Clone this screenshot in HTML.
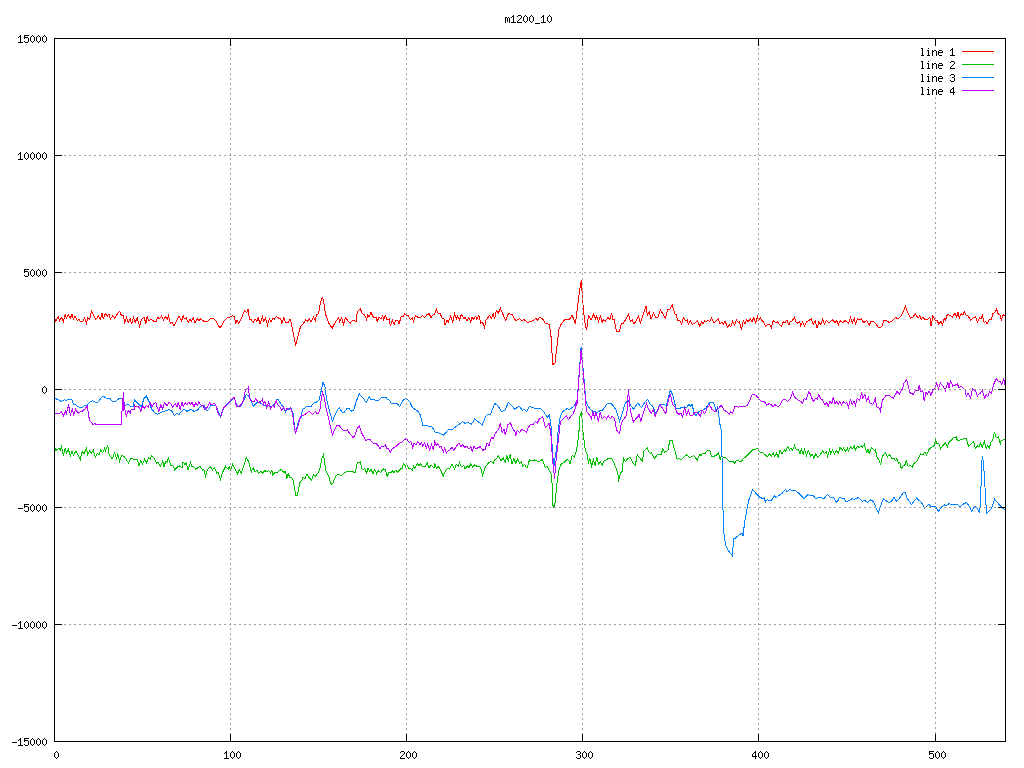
<!DOCTYPE html>
<html><head><meta charset="utf-8"><title>m1200_10</title>
<style>html,body{margin:0;padding:0;background:#fff;overflow:hidden}svg{display:block}</style>
</head><body>
<svg width="1024" height="768" viewBox="0 0 1024 768" shape-rendering="crispEdges">
<rect width="1024" height="768" fill="#fff"/>
<g shape-rendering="crispEdges">
<polyline fill="none" stroke="#ff0000" stroke-width="1" stroke-linejoin="miter" points="54.0,316.62 55.88,321.25 58.38,316.88 59.62,320.62 61.5,317.5 63.38,321.25 65.25,314.38 66.5,318.12 68.38,315.0 70.25,318.12 72.12,314.38 73.38,319.38 75.25,316.25 77.12,320.62 79.0,318.75 80.25,321.88 82.75,321.25 84.62,318.12 86.5,323.12 87.75,317.5 89.62,319.38 91.5,311.25 95.88,319.38 98.38,315.62 100.25,319.38 102.12,313.12 103.38,319.38 105.25,313.12 107.12,316.25 109.0,313.75 110.25,319.38 112.75,315.62 114.62,318.12 117.12,314.38 119.62,311.25 121.5,315.62 123.38,315.62 124.62,322.5 126.5,317.5 128.38,322.5 130.25,318.75 131.5,324.38 133.38,317.5 135.25,322.5 137.12,317.5 139.62,326.25 141.5,319.38 144.0,316.88 145.88,323.75 147.12,316.25 149.0,321.25 150.88,319.38 154.0,321.25 155.88,321.88 157.75,317.5 159.62,318.75 161.5,316.25 163.38,320.0 165.25,316.25 167.12,319.38 168.38,315.62 170.25,323.12 172.12,321.88 174.0,325.62 179.0,316.25 181.5,321.25 183.12,315.62 184.38,318.75 186.25,318.12 188.12,322.5 190.0,318.75 191.25,321.25 193.12,317.5 195.0,323.12 197.5,318.75 198.75,320.62 200.62,318.75 203.75,321.25 207.5,321.25 210.62,318.5 213.75,318.75 215.62,320.62 220.0,328.12 224.38,320.62 226.88,318.12 230.0,316.88 232.5,315.62 234.38,316.88 235.62,323.75 236.88,320.0 238.75,323.12 241.88,317.5 244.38,310.62 246.88,312.5 248.12,308.75 249.38,319.38 251.25,319.38 253.12,322.5 255.0,318.75 256.88,321.25 258.12,317.5 260.0,323.75 262.5,316.88 263.75,321.25 265.62,318.12 267.5,325.0 269.38,318.75 271.25,321.88 273.12,318.12 274.38,319.38 276.25,316.25 278.75,318.12 280.62,318.12 281.88,323.12 283.75,317.5 285.62,322.5 288.12,323.12 290.0,319.38 291.25,322.5 295.62,345.62 300.62,326.25 303.12,323.75 305.62,320.0 307.5,321.25 309.12,318.75 311.0,321.88 313.5,316.88 315.38,320.62 316.62,314.38 318.5,313.75 320.38,302.5 322.25,297.5 323.5,300.62 325.38,313.75 329.12,323.75 332.25,328.12 334.75,323.12 338.5,317.5 339.75,321.88 341.62,318.12 343.5,324.38 345.38,317.5 347.88,320.62 350.38,323.12 352.25,320.62 354.75,320.62 356.0,321.88 357.25,311.88 360.38,308.75 362.25,313.75 364.75,315.0 366.62,320.0 367.88,315.0 369.12,316.88 371.0,312.5 373.5,317.5 376.0,317.5 377.25,321.25 379.12,316.88 381.0,318.75 382.88,315.62 383.5,320.0 385.38,315.62 387.25,320.0 389.12,318.75 390.38,326.25 392.25,320.0 394.12,324.38 396.0,320.0 397.88,320.62 399.12,323.75 401.0,316.88 402.88,316.88 404.75,313.75 406.62,315.62 408.5,315.62 410.38,319.38 412.25,318.12 413.5,321.25 415.38,315.62 417.25,316.88 419.12,318.12 421.0,316.88 422.88,315.62 424.75,317.5 426.62,315.0 429.12,313.75 431.0,317.5 433.5,314.38 434.5,314.38 436.38,309.38 438.25,313.75 440.12,313.12 442.0,318.12 443.88,318.75 445.12,325.0 447.0,320.62 448.25,322.5 450.75,315.62 452.62,322.5 454.5,313.75 456.38,318.75 457.62,316.25 459.5,320.0 461.38,314.38 463.88,318.75 465.12,316.88 467.0,321.25 468.88,317.5 470.75,321.88 472.0,317.5 473.25,319.38 475.75,316.25 477.0,319.38 478.88,315.62 480.75,323.12 482.62,322.5 484.5,327.5 485.75,320.62 489.5,315.62 491.38,318.12 493.25,313.75 494.5,319.38 496.38,310.62 498.25,313.12 500.5,308.5 502.62,313.75 505.75,320.62 508.25,313.75 512.0,314.38 515.75,320.62 519.5,318.75 522.0,320.62 523.88,319.38 527.62,322.5 532.0,321.25 535.75,318.5 537.62,320.0 539.5,317.25 542.62,318.75 545.12,323.12 548.88,324.38 549.5,324.7 551.1,337.2 552.7,364.5 555,363 558.9,329.4 561.25,323.9 565.2,319.2 569,320 572.2,315.3 575.3,323.9 577.7,306 579.2,293.4 581.25,280 583.1,306 584.7,321.6 586.6,330.2 588.5,315.62 591.0,320.0 593.5,314.38 595.38,318.75 596.62,316.25 598.5,321.25 600.38,316.25 602.25,322.5 603.5,319.38 605.38,321.25 607.88,317.5 609.75,319.38 611.62,313.12 612.88,319.38 614.12,319.38 616.62,331.88 619.12,331.88 621.62,323.12 623.5,323.12 626.0,318.75 628.5,314.38 630.38,321.25 632.25,320.0 633.5,323.75 635.38,322.5 638.5,316.25 640.38,323.12 643.5,313.12 646.0,306.25 647.25,315.0 649.12,311.88 651.0,319.38 653.5,313.12 656.0,317.5 657.88,317.5 660.38,310.0 662.88,313.75 665.38,318.12 667.88,309.38 669.75,309.38 672.25,305.0 674.75,313.75 676.0,314.38 677.88,320.62 679.75,320.62 681.62,324.38 683.5,317.5 685.38,320.62 687.25,320.0 688.5,324.38 690.38,320.62 692.25,324.38 694.75,323.12 697.25,320.62 699.75,326.25 701.62,321.88 702.88,323.75 704.75,320.62 706.62,321.88 707.88,320.0 709.75,321.88 711.62,318.12 714.0,323.12 716.38,320.62 718.25,318.75 720.12,323.75 722.0,321.88 723.25,324.38 725.12,321.25 727.62,327.5 729.5,325.0 730.75,326.88 732.62,321.25 734.5,325.0 736.38,320.0 738.25,322.5 739.5,321.25 741.38,330.0 743.25,320.62 745.12,323.75 746.38,320.0 748.25,321.88 750.12,318.75 752.0,321.88 753.88,317.5 755.75,323.12 757.62,316.25 758.88,320.62 760.12,317.5 762.0,320.62 763.88,322.5 765.75,326.25 767.62,324.38 769.5,324.38 771.38,327.5 773.25,320.62 775.75,322.5 777.62,321.88 779.5,324.38 781.38,326.25 783.25,321.88 785.12,322.5 787.0,320.0 788.88,325.0 790.12,321.25 792.0,321.25 794.5,316.88 795.75,321.88 797.62,323.12 799.5,321.25 800.75,325.62 802.62,321.88 804.5,326.25 806.38,321.88 808.25,320.62 809.5,320.0 811.38,318.75 813.25,324.38 815.12,320.62 817.0,328.12 818.88,321.88 820.75,324.38 822.62,319.38 824.5,324.38 826.38,320.62 828.25,322.5 830.12,321.88 832.62,320.0 835.12,322.5 837.0,320.62 838.25,325.0 840.0,320.62 843.0,322.5 844.88,320.62 846.75,321.88 848.62,323.12 850.5,317.5 852.38,323.12 854.25,318.12 855.5,325.0 857.38,318.75 859.25,320.0 861.12,318.75 863.62,322.5 866.75,320.62 869.25,325.0 871.12,321.25 873.62,321.25 878.62,327.5 881.75,326.88 883.62,320.62 886.75,320.62 889.25,322.5 891.75,321.25 895.5,317.5 898.0,318.75 901.75,315.0 905.5,306.25 907.38,311.88 910.5,318.12 913.0,316.88 915.5,313.75 918.0,318.12 919.88,315.62 921.12,319.38 923.0,316.88 924.88,320.0 928.62,318.75 929.88,316.88 931.12,326.25 933.0,315.62 934.88,320.0 936.75,320.0 938.62,323.75 941.12,321.25 942.38,325.0 944.25,318.75 945.5,320.0 947.38,314.38 950.5,315.62 952.38,316.88 954.88,313.12 956.75,316.88 958.0,312.5 959.25,318.12 961.12,313.75 963.0,315.0 964.25,311.88 966.0,315.0 968.15,316.13 970.59,320.04 973.04,318.09 975.48,316.62 977.43,321.99 979.87,317.6 980.85,319.06 982.31,315.64 984.27,322.97 985.73,321.5 987.2,323.95 989.15,319.55 991.59,319.06 993.05,313.2 994.52,312.71 996.47,308.81 998.43,314.67 999.89,314.67 1001.36,320.04 1003.31,314.67 1005.26,316.13"/>
<polyline fill="none" stroke="#00c000" stroke-width="1" stroke-linejoin="miter" points="54.0,453.22 55.76,448.82 56.5,450.38 59.0,448.5 60.25,450.38 61.5,446.62 63.38,456.0 65.25,447.88 66.5,452.88 68.38,449.12 70.25,456.0 72.12,451.0 73.38,455.38 75.88,451.0 78.38,455.38 80.25,459.75 82.12,451.62 84.0,453.5 86.5,448.5 87.75,454.75 89.62,451.0 91.5,452.88 93.38,450.38 95.25,457.25 97.12,453.5 99.0,454.75 100.88,449.75 102.75,452.88 104.62,448.5 105.25,451.0 107.75,445.38 109.0,454.12 112.12,459.12 114.62,452.88 116.5,458.5 117.75,454.12 119.62,461.0 121.5,455.38 124.0,456.62 125.88,459.12 128.38,462.88 130.88,458.5 133.38,459.12 135.25,459.75 137.12,459.12 139.0,466.0 140.88,460.38 142.75,464.12 144.62,459.12 146.5,462.88 148.38,457.88 150.25,459.12 151.5,456.0 154.0,457.88 156.5,463.5 158.38,462.25 160.25,466.62 162.75,461.0 164.0,466.62 165.88,461.0 167.12,462.25 168.38,458.5 170.88,465.38 172.75,465.38 174.62,469.75 177.12,467.25 179.62,466.0 182.0,467.88 183.12,461.88 185.0,465.0 186.25,463.12 188.12,470.0 190.62,462.5 191.88,466.88 193.75,466.25 195.62,469.38 198.12,467.5 200.0,466.25 202.5,470.0 203.75,469.38 205.62,476.25 207.5,469.38 210.62,466.88 212.5,470.0 214.38,467.5 216.88,473.12 218.12,472.5 220.62,479.38 222.5,472.5 225.62,466.25 228.12,469.38 229.38,466.88 230.62,470.0 232.5,464.38 235.0,468.75 237.5,473.75 239.38,469.38 241.25,473.12 243.75,466.25 246.25,457.5 248.75,461.88 251.25,471.88 253.12,467.5 255.0,471.88 256.88,470.0 258.75,473.12 260.62,471.25 262.5,473.12 265.0,470.62 266.88,471.88 268.75,470.62 270.62,473.12 271.88,470.0 272.5,475.62 275.0,471.88 276.88,473.12 278.75,471.25 281.25,469.38 283.75,472.5 285.62,471.25 286.88,478.75 288.12,473.75 290.0,477.5 291.88,477.5 293.12,480.0 295.62,495.0 297.5,495.0 300.0,482.5 301.88,480.0 303.12,476.88 305.0,478.75 306.88,474.38 308.0,475.62 308.5,476.88 311.62,480.0 313.5,474.38 315.38,476.25 317.88,473.12 319.75,469.38 321.62,459.38 323.5,454.38 326.0,471.25 328.5,475.62 331.0,484.38 332.88,483.12 336.0,475.62 338.5,474.38 341.0,475.62 344.12,473.12 347.88,471.25 352.88,471.25 354.12,473.12 355.38,472.5 357.25,462.5 360.38,461.88 362.25,470.0 364.75,468.75 366.62,473.12 367.88,468.12 369.75,471.25 371.0,468.75 372.88,473.75 374.75,469.38 376.62,473.75 378.5,470.62 380.38,472.5 383.5,468.75 385.38,470.0 387.25,476.25 389.12,471.88 391.0,473.12 392.25,470.62 394.12,472.5 396.0,470.0 397.88,472.5 399.75,469.38 402.25,468.12 403.5,463.75 405.38,466.88 406.62,463.75 408.5,468.12 411.0,468.75 412.25,470.0 413.5,466.25 414.75,468.75 417.25,463.75 419.12,465.62 420.38,463.75 422.88,466.88 425.38,466.25 427.25,462.5 429.12,468.12 431.0,465.0 434.0,468.12 434.5,463.12 436.38,468.12 438.25,466.25 440.12,469.38 443.25,476.25 445.75,470.0 448.25,468.12 450.12,468.12 452.0,464.38 454.5,469.38 456.38,464.38 458.25,466.25 459.5,462.5 461.38,466.88 463.88,465.62 465.12,468.75 467.62,465.62 468.88,468.12 470.75,463.75 472.62,466.88 474.5,465.0 477.0,466.25 479.5,466.25 480.75,468.12 482.62,475.62 485.12,467.5 487.62,463.75 490.75,461.25 493.25,463.12 494.5,459.38 496.38,458.75 498.25,455.62 500.75,460.62 503.25,458.12 505.12,462.5 507.0,455.62 508.25,460.62 510.12,454.38 512.0,464.38 513.88,458.75 515.75,463.12 517.62,459.38 519.5,463.12 521.38,461.88 522.62,466.25 524.5,464.38 527.0,468.12 529.5,460.0 532.0,460.62 534.5,460.0 537.62,461.25 539.5,461.25 542.62,459.38 545.12,467.5 546.38,466.88 547.62,466.88 550.12,471.88 551.7,475.8 552.4,491.9 553.1,507.2 554.6,507.2 556.0,493.3 557.5,478.75 559.0,470.0 561.1,464.2 563.3,462.7 565.5,461.25 567.0,459.0 569.2,461.25 569.9,464.2 572.1,455.4 574.3,456.9 576.5,450.3 578.6,436.5 580.1,414.6 581.6,411.7 583.0,432.1 585.2,449.6 587.25,454.88 588.5,463.62 589.75,458.0 591.62,466.12 593.5,459.88 595.38,466.12 596.62,456.75 598.5,464.25 600.38,461.75 602.25,464.88 604.12,460.5 606.0,459.88 609.12,458.0 612.25,459.25 616.0,468.0 617.88,473.0 618.5,481.75 620.38,473.0 622.25,471.12 623.5,458.0 625.38,461.75 627.25,459.25 630.38,457.38 632.88,463.0 635.38,464.88 637.25,454.88 639.75,458.0 642.25,461.12 644.12,450.5 647.25,448.0 648.5,451.75 650.38,453.62 651.62,453.0 654.12,458.62 657.25,454.88 661.0,454.88 662.88,448.62 664.75,452.38 667.88,450.5 669.75,440.5 672.25,440.5 674.12,448.0 677.25,459.88 679.12,458.0 681.0,459.88 683.5,457.38 686.62,454.88 689.75,458.0 693.5,455.5 697.25,459.88 699.75,454.25 701.0,455.5 702.88,453.0 705.38,453.62 706.62,451.12 709.75,450.5 711.62,456.75 714.0,456.12 716.38,455.62 718.25,452.5 720.12,459.38 721.38,455.62 723.88,457.5 725.75,457.5 730.12,461.88 732.62,461.25 734.5,463.12 736.38,460.62 741.38,461.25 743.25,458.75 746.38,456.25 750.12,452.5 753.25,449.38 757.62,448.75 760.12,452.5 763.25,453.12 767.62,456.88 769.5,453.75 771.38,456.25 773.25,453.12 774.5,456.25 776.38,453.12 778.25,457.5 780.12,450.0 782.0,453.75 784.5,450.0 785.75,451.25 787.62,446.88 789.5,450.0 790.75,448.12 792.62,450.0 794.5,445.62 796.38,450.0 798.25,449.38 800.12,453.75 801.38,448.75 803.25,454.38 804.5,449.38 806.38,455.62 808.25,450.62 810.75,456.25 812.0,453.75 813.88,458.12 815.75,453.75 817.62,457.5 820.12,455.0 822.62,450.62 824.5,453.75 826.38,451.88 827.62,456.25 829.5,450.0 830.75,453.75 832.62,450.0 834.5,453.75 836.38,450.62 838.25,453.12 840.0,447.5 842.38,450.0 843.62,448.12 845.5,451.25 847.38,448.12 848.62,451.25 850.5,446.88 852.38,448.75 854.25,446.25 855.5,450.0 857.38,446.25 859.25,447.5 861.12,445.62 862.38,446.88 864.25,444.38 866.75,452.5 868.0,449.38 869.25,453.12 871.75,447.5 874.25,450.62 875.5,449.38 876.75,456.88 879.25,460.0 880.5,465.0 882.38,456.25 885.5,452.5 887.38,456.88 889.25,454.38 891.75,458.12 893.62,458.12 895.5,460.62 896.75,458.75 898.62,463.12 899.88,462.5 901.12,468.75 903.62,465.0 904.88,465.0 906.12,460.62 908.0,466.25 909.88,465.62 912.38,466.88 914.25,463.12 916.75,461.25 918.62,458.12 920.5,453.75 923.0,455.0 924.88,451.88 926.75,455.0 928.62,450.0 930.5,448.12 933.0,446.25 934.25,445.62 935.5,440.0 936.75,443.12 938.62,443.12 940.5,448.75 943.0,445.62 945.5,442.5 947.38,446.88 949.25,441.88 951.75,440.0 953.0,438.12 956.12,436.88 957.38,440.62 959.88,440.0 961.75,439.38 964.25,438.75 966.0,438.12 968.64,446.37 971.08,443.93 973.52,441.48 975.48,448.32 977.43,445.88 979.38,446.37 980.36,442.95 982.31,447.34 984.27,441.48 986.22,448.32 987.68,445.88 989.15,448.32 991.1,441.97 992.57,440.51 993.54,436.6 994.52,431.72 995.5,436.11 996.96,438.07 998.43,437.09 1000.38,443.93 1001.36,440.02 1003.31,440.02 1005.26,439.04"/>
<polyline fill="none" stroke="#0080ff" stroke-width="1" stroke-linejoin="miter" points="54.0,398.07 55.76,398.76 57.52,399.32 59.28,400.05 61.04,401.39 62.81,400.56 64.57,399.91 66.33,400.33 68.09,399.31 69.85,399.23 71.61,399.32 73.37,404.01 75.13,404.61 76.89,405.81 78.66,407.02 80.42,407.64 82.18,407.79 83.94,405.87 85.7,405.49 87.46,404.8 89.22,402.98 90.98,401.27 92.74,400.66 94.51,401.84 96.27,402.55 98.03,401.91 99.79,399.76 101.55,397.59 103.31,396.28 105.07,397.36 106.83,398.26 108.59,398.72 110.36,398.89 112.12,401.21 113.88,401.9 115.64,401.64 117.4,399.69 119.16,398.72 122,398.75 123.5,401.1 125.1,405.4 127.97,404.32 129.73,405.71 131.49,406.66 133.25,406.2 134.5,400.0 137.0,402.5 139.5,405.0 141.38,406.88 143.88,398.75 146.38,396.25 149.5,402.5 151.38,408.75 155.12,413.12 157.62,414.38 160.75,412.5 164.5,411.25 169.5,409.38 172.0,411.25 174.5,415.62 177.0,413.12 178.88,415.0 181.38,411.25 183.88,409.38 187.0,411.25 190.75,409.38 193.88,411.25 197.0,410.62 200.12,406.88 202.0,405.62 204.5,405.62 206.38,410.62 208.88,409.38 210.75,405.62 213.25,405.0 215.75,405.62 218.25,411.25 220.75,416.88 223.88,406.88 227.0,404.38 230.75,401.25 232.62,398.75 234.5,398.12 235.75,403.12 238.25,406.88 241.38,405.62 243.88,400.0 246.38,394.38 248.88,396.25 250.75,400.0 253.25,406.25 257.0,402.5 260.0,401.88 260.5,403.12 263.0,404.38 265.5,405.62 268.0,405.0 270.5,406.88 273.0,405.62 274.88,403.12 276.75,399.38 278.62,400.0 281.12,404.38 283.0,406.88 285.5,411.88 288.0,408.12 291.12,408.75 293.0,413.12 294.88,428.75 296.12,430.0 298.62,421.25 301.12,417.5 302.38,409.38 304.88,408.12 306.75,406.25 309.25,406.88 311.12,406.25 313.62,403.12 316.75,401.88 319.25,400.0 320.5,393.75 323.0,382.5 324.88,386.25 326.75,400.0 328.62,407.5 332.38,421.25 334.88,415.0 337.38,410.0 339.25,407.5 341.75,411.88 344.25,412.5 346.75,408.75 349.25,408.75 351.12,411.25 353.62,410.0 356.12,401.88 359.25,393.75 361.12,396.25 363.62,398.75 366.12,402.5 369.25,396.25 371.12,400.0 373.62,399.38 376.12,400.62 379.25,400.0 381.75,397.5 386.0,397.5 386.0,398.5 389.0,399.75 391.5,403.5 397.12,403.5 399.62,406.62 403.38,399.75 406.5,398.5 409.62,401.62 412.75,407.88 415.88,409.75 418.38,411.62 420.25,414.75 422.75,425.38 427.75,426.0 431.5,426.0 435.25,432.25 437.75,432.25 443.38,435.38 448.38,429.75 452.75,429.12 455.25,427.25 462.75,421.62 465.25,423.5 467.75,422.25 471.5,424.12 474.62,419.12 479.0,422.25 482.12,425.38 485.88,416.0 487.12,414.75 490.25,414.75 494.62,403.5 497.75,405.38 501.5,411.62 505.25,409.75 508.38,402.25 512.0,406.0 514.87,409.34 519.09,406.06 522.37,410.28 524.25,409.34 526.59,411.69 529.4,406.53 533.62,407.94 535.03,408.87 540.65,408.41 543.94,412.16 545.81,414.97 547.69,417.31 549.09,414.5 550.9,423.3 552.4,451.0 553.9,467.1 555.3,455.4 556.8,448.1 558.2,429.2 560.4,416.0 563.3,410.9 567.0,408.75 569.2,409.5 571.4,408.0 573.5,406.6 575.7,402.9 577.2,400.0 581.1,347 585.1,391.6 586,401.5 586.5,403.12 589.0,407.5 591.5,410.62 594.0,411.25 597.12,412.5 600.25,410.62 602.75,410.0 607.12,403.75 610.25,403.12 613.38,405.62 616.5,411.25 619.62,421.25 622.12,413.75 625.25,403.12 628.38,400.62 630.88,405.62 633.38,409.38 637.75,403.12 641.5,407.5 644.62,402.5 647.75,399.38 650.25,404.38 652.75,406.25 655.88,414.38 659.62,405.0 662.75,404.38 666.5,405.62 670.25,390.0 672.75,395.0 675.88,408.12 680.25,408.12 684.0,406.88 686.5,407.5 689.0,404.38 690.25,406.25 692.12,404.38 694.0,413.12 695.88,415.62 699.0,411.25 702.75,410.0 705.88,408.12 709.62,402.5 712.0,402.5 712.66,402.25 714.42,404.42 716.25,411.5 717.5,407.75 718.75,412.75 719.4,424 720.6,425.25 721.25,431.5 721.75,451 722.5,470 722.75,502.5 723.75,532.5 725.6,545 728.75,551.25 732.25,555.6 733.75,538.1 735.6,538.1 738.75,535 741.9,533.1 743.1,536.25 744.4,523.75 746.9,510 748.75,500 749.88,497.5 752.38,490.0 754.25,491.25 757.38,495.0 759.25,496.88 763.0,498.75 764.25,498.12 765.5,501.88 767.38,499.38 769.25,500.62 771.75,500.0 774.25,495.62 776.12,497.5 778.62,495.62 781.75,493.75 785.5,489.38 787.38,491.88 789.88,489.38 792.38,490.62 795.5,490.62 799.25,493.75 804.25,498.75 808.0,494.38 810.5,495.62 813.0,495.0 815.5,498.75 818.0,497.5 820.5,497.5 824.25,498.75 827.38,494.38 830.5,497.5 833.62,497.5 836.12,502.5 838.0,500.62 839.25,497.5 844.25,498.75 846.12,501.88 849.25,500.62 851.75,498.75 854.25,499.38 858.62,497.5 862.38,501.25 864.88,500.62 867.38,502.5 870.5,500.0 873.0,501.25 874.25,503.12 876.0,508.12 878.38,512.5 880.88,505.0 883.38,498.75 885.88,500.62 889.0,502.5 891.5,501.25 894.0,497.5 896.5,501.25 899.0,498.75 900.88,496.25 903.38,492.5 905.25,492.5 907.12,498.12 911.5,504.38 916.5,498.12 921.5,502.5 924.62,508.12 929.0,504.38 931.5,506.88 935.25,506.25 938.38,511.25 941.5,506.88 944.62,505.0 946.5,505.62 949.0,503.75 951.5,504.38 954.62,505.0 957.12,504.38 959.62,506.88 962.75,504.38 966.5,502.5 969.0,505.62 971.5,511.25 974.62,506.25 976.5,507.5 979.62,512.5 980.88,493.75 981.3,468.8 982.3,456.0 983.3,462.0 984.5,476.75 985.25,492.5 986.5,513.12 989.0,511.25 991.5,508.75 994.62,499.38 999.0,504.38 1002.0,507.5 1005.0,510.0"/>
<polyline fill="none" stroke="#c000ff" stroke-width="1" stroke-linejoin="miter" points="54,413.6 56.3,413.6 59.5,413.6 61.4,411.6 63.4,416.3 65.3,410.9 66.5,413.6 68.5,404.6 70.4,415.5 72.4,408.5 73.5,415.5 75.5,409.3 78.2,413.2 80.6,411.6 82.1,411.25 84.5,409.3 87.6,405.8 88.4,415.2 89.9,420.6 93.1,424.5 94.6,423.4 96.2,424.5 121.6,424.5 121.6,415.9 122.75,401.1 123.4,392.1 123.9,411.25 124.7,402.7 125.1,412 126.3,416.3 128.2,410.5 130.2,413.2 131.3,409.3 134,409.7 134.5,405.0 135.75,406.88 137.62,406.25 139.5,408.12 140.75,411.25 142.62,405.62 144.5,408.12 146.38,405.62 148.25,406.88 150.12,402.5 152.0,406.88 153.88,403.75 155.75,402.5 157.0,406.88 158.88,411.25 160.75,405.0 162.62,408.75 164.5,402.5 167.0,405.62 168.88,402.5 170.75,403.12 172.62,406.88 175.12,403.75 177.0,406.88 178.25,402.5 180.12,409.38 182.0,402.5 183.25,406.88 185.12,402.5 187.0,405.0 188.88,401.88 190.75,404.38 192.0,401.88 193.88,406.88 195.75,403.12 197.62,405.0 198.88,401.88 200.75,405.0 203.25,405.62 205.12,410.0 207.0,407.5 209.5,403.12 212.0,405.0 213.88,403.12 215.75,405.0 218.25,413.75 220.75,416.88 223.25,408.12 225.12,406.25 227.62,404.38 229.5,401.88 232.0,398.75 234.5,397.5 236.38,406.25 238.25,406.88 240.75,405.0 243.25,401.25 245.12,391.25 248.25,387.5 250.12,400.0 253.88,401.88 255.75,398.75 258.25,402.5 260.0,402.5 260.5,401.88 262.38,399.38 263.62,404.38 264.88,401.25 266.75,408.12 268.62,401.88 270.5,408.75 272.38,405.62 274.25,406.88 276.12,400.62 278.0,405.0 279.88,406.88 281.75,410.62 283.62,406.88 285.5,410.62 287.38,408.12 289.25,410.0 290.5,408.12 292.38,412.5 294.25,426.88 295.5,433.12 297.38,428.12 299.25,420.62 301.12,415.62 304.25,415.0 306.75,413.12 309.25,411.25 312.38,414.38 315.5,411.25 316.75,413.75 318.62,413.12 319.88,410.0 321.12,400.0 322.38,392.5 324.25,397.5 326.12,408.75 329.25,421.25 332.38,435.0 334.88,429.38 336.75,425.62 339.25,425.62 341.12,428.12 343.62,430.62 347.38,430.0 349.88,433.75 353.0,437.5 354.88,435.62 356.75,429.38 359.25,425.62 361.75,433.12 365.5,440.0 367.38,440.0 369.88,439.38 373.0,443.12 376.12,443.75 378.04,445.59 379.81,448.64 381.57,446.48 383.33,446.48 385.25,444.75 387.12,449.12 388.38,448.5 390.25,452.88 392.12,449.12 394.62,447.25 396.5,446.0 399.0,443.5 401.5,442.25 404.0,439.75 406.5,438.5 409.0,442.25 410.88,441.62 412.75,447.88 414.0,443.5 415.88,444.75 417.75,441.62 420.25,444.75 421.5,442.88 422.75,446.62 424.62,442.88 426.5,447.88 427.75,444.12 429.62,449.75 431.5,444.12 433.38,450.38 434.62,441.62 436.5,445.38 437.75,443.5 439.62,447.25 440.88,446.0 443.38,452.25 444.62,448.5 446.5,452.88 447.75,451.0 449.62,450.38 452.12,447.25 454.0,450.38 456.5,446.0 459.0,442.88 460.88,446.62 462.75,444.75 464.62,447.25 467.12,446.62 469.0,449.12 470.88,446.62 472.12,451.62 474.0,446.0 475.88,449.12 477.75,447.88 480.25,446.62 482.75,450.38 485.25,449.12 487.12,442.88 489.0,446.0 491.5,437.25 493.38,438.5 495.25,433.5 496.5,431.62 498.38,429.75 500.25,423.5 502.12,432.25 504.0,429.12 505.25,434.75 507.75,424.75 510.25,422.88 513.47,429.97 514.87,431.37 515.81,435.12 517.22,430.44 519.56,432.31 521.9,429.5 524.25,430.44 526.59,432.31 528.47,427.16 530.81,424.34 532.69,424.81 534.09,422.94 535.5,421.53 537.37,423.41 538.78,419.19 540.65,418.72 542.53,416.37 545.34,427.16 547.22,425.75 549.09,423.41 550.9,433.5 552.4,458.3 554.6,478.75 556.0,461.25 558.2,440.8 560.4,421.9 563.3,419.0 566.25,416.0 568.4,419.7 570.6,416.8 573.5,413.1 575.0,408.75 576.5,400.0 576.9,405.6 581.1,349.4 586.5,411.25 589.0,414.38 591.5,419.38 592.75,411.25 594.62,417.5 595.88,412.5 598.38,420.62 600.25,411.88 602.12,418.75 604.62,416.25 606.5,418.75 608.38,415.62 610.25,418.75 612.12,416.25 614.62,418.75 616.5,430.0 619.62,433.75 621.5,422.5 624.0,418.75 625.88,416.25 627.12,410.0 628.38,389.38 630.25,410.0 633.38,421.88 635.88,418.75 638.38,416.25 639.0,413.75 640.88,421.25 643.38,412.5 646.5,403.75 648.38,409.38 651.5,413.12 653.38,410.0 655.25,416.25 657.75,410.0 660.25,404.38 662.75,408.75 665.88,413.75 667.12,405.62 670.25,393.75 672.75,405.0 674.62,406.25 676.5,411.88 679.0,414.38 680.88,413.12 682.75,416.88 684.62,406.88 686.5,415.0 688.38,410.0 690.25,415.62 692.75,415.62 694.62,412.5 697.12,411.88 700.25,416.25 702.12,410.0 704.62,413.75 707.12,408.12 709.62,405.0 712.0,409.38 712.5,409.62 715.0,411.5 717.5,409.62 721.25,405.25 724.38,410.25 729.38,414.0 730.62,411.5 732.5,413.38 735.0,406.5 738.75,407.12 742.5,406.5 746.88,405.88 749.38,401.5 751.88,395.25 753.75,394.0 756.25,395.88 758.75,398.38 760.62,400.88 764.38,401.5 766.88,405.25 769.38,403.38 771.88,405.25 773.12,407.12 775.0,404.62 777.5,406.5 779.38,405.88 782.5,400.25 785.0,399.0 787.5,401.5 790.62,398.38 792.5,392.12 794.38,397.12 797.5,399.62 801.25,401.5 802.5,403.38 804.38,398.38 806.25,399.62 808.75,391.5 810.62,394.62 813.12,401.5 815.62,398.38 817.5,399.0 818.75,394.62 820.62,399.0 822.5,399.62 825.0,405.25 826.88,402.12 828.12,406.5 830.0,401.5 831.88,403.38 833.12,397.12 835.0,404.0 836.25,401.5 838.0,403.38 838.5,404.25 839.75,401.75 841.62,404.88 843.5,401.75 845.38,403.62 846.62,402.38 848.5,407.38 850.38,399.88 852.25,404.25 854.12,401.12 855.38,405.5 857.25,398.0 859.75,400.5 861.62,391.75 862.88,398.0 864.75,394.25 866.62,401.12 868.5,397.38 869.75,403.0 872.88,404.25 875.38,398.62 876.62,406.75 879.12,408.0 880.38,411.12 882.25,400.5 886.0,395.5 889.12,395.5 891.62,397.38 893.5,398.0 897.25,391.12 899.12,394.25 902.25,389.25 904.12,383.0 906.62,379.25 909.75,392.38 911.0,393.62 913.5,394.25 915.38,389.88 917.88,391.12 919.12,385.5 921.0,391.75 922.88,390.5 924.12,400.5 926.0,392.38 927.25,394.88 929.12,391.12 931.0,395.5 932.88,389.88 935.38,388.62 936.62,382.38 938.5,388.62 940.38,383.0 943.5,386.75 945.38,390.5 947.88,382.38 949.12,388.0 950.38,380.5 952.88,386.12 954.75,385.5 957.25,383.62 959.12,388.0 961.0,386.12 964.0,389.25 965.22,389.88 966.2,396.23 968.15,393.3 970.59,397.69 972.55,388.41 974.5,390.37 975.48,389.88 977.43,396.23 979.38,393.3 980.36,393.3 982.31,390.37 984.75,398.18 986.22,394.76 987.68,396.71 989.64,391.83 991.59,393.3 993.54,384.51 996.47,378.65 997.94,381.09 1000.38,381.58 1001.84,385.0 1003.8,378.16 1004.77,385.0"/>
</g>
<path d="M54 155.5H1006M54 272.5H1006M54 389.5H1006M54 507.5H1006M54 624.5H1006" stroke="#a0a0a0" stroke-width="1" stroke-dasharray="2 3" fill="none"/>
<path d="M230.5 38V742M406.5 38V742M582.5 38V742M758.5 38V742M935.5 97V742" stroke="#a0a0a0" stroke-width="1" stroke-dasharray="2 3" fill="none"/>
<rect x="915" y="46" width="86" height="51" fill="#fff"/>
<path d="M962 51.5H994" stroke="#ff0000" stroke-width="1"/><path d="M962 64.5H994" stroke="#00c000" stroke-width="1"/><path d="M962 77.5H994" stroke="#0080ff" stroke-width="1"/><path d="M962 90.5H994" stroke="#c000ff" stroke-width="1"/>
<path d="M54 38H1006V742H54z M55 39V741H1005V39z" fill="#000" fill-rule="evenodd"/>
<path d="M54 155h8v1h-8z M998 155h8v1h-8z M54 272h8v1h-8z M998 272h8v1h-8z M54 389h8v1h-8z M998 389h8v1h-8z M54 507h8v1h-8z M998 507h8v1h-8z M54 624h8v1h-8z M998 624h8v1h-8z M230 734h1v8h-1z M230 38h1v8h-1z M406 734h1v8h-1z M406 38h1v8h-1z M582 734h1v8h-1z M582 38h1v8h-1z M758 734h1v8h-1z M758 38h1v8h-1z M935 734h1v8h-1z M935 38h1v8h-1z" fill="#000"/>
<path d="M505 17h2v1h-2zM508 17h1v1h-1zM505 18h1v1h-1zM507 18h1v1h-1zM509 18h1v1h-1zM505 19h1v1h-1zM507 19h1v1h-1zM509 19h1v1h-1zM505 20h1v1h-1zM507 20h1v1h-1zM509 20h1v1h-1zM505 21h1v1h-1zM507 21h1v1h-1zM509 21h1v1h-1zM505 22h1v1h-1zM509 22h1v1h-1zM513 15h1v1h-1zM512 16h2v1h-2zM511 17h1v1h-1zM513 17h1v1h-1zM513 18h1v1h-1zM513 19h1v1h-1zM513 20h1v1h-1zM513 21h1v1h-1zM511 22h5v1h-5zM518 15h3v1h-3zM517 16h1v1h-1zM521 16h1v1h-1zM521 17h1v1h-1zM520 18h1v1h-1zM519 19h1v1h-1zM518 20h1v1h-1zM517 21h1v1h-1zM517 22h5v1h-5zM525 15h1v1h-1zM524 16h1v1h-1zM526 16h1v1h-1zM523 17h1v1h-1zM527 17h1v1h-1zM523 18h1v1h-1zM527 18h1v1h-1zM523 19h1v1h-1zM527 19h1v1h-1zM523 20h1v1h-1zM527 20h1v1h-1zM524 21h1v1h-1zM526 21h1v1h-1zM525 22h1v1h-1zM531 15h1v1h-1zM530 16h1v1h-1zM532 16h1v1h-1zM529 17h1v1h-1zM533 17h1v1h-1zM529 18h1v1h-1zM533 18h1v1h-1zM529 19h1v1h-1zM533 19h1v1h-1zM529 20h1v1h-1zM533 20h1v1h-1zM530 21h1v1h-1zM532 21h1v1h-1zM531 22h1v1h-1zM535 23h5v1h-5zM543 15h1v1h-1zM542 16h2v1h-2zM541 17h1v1h-1zM543 17h1v1h-1zM543 18h1v1h-1zM543 19h1v1h-1zM543 20h1v1h-1zM543 21h1v1h-1zM541 22h5v1h-5zM549 15h1v1h-1zM548 16h1v1h-1zM550 16h1v1h-1zM547 17h1v1h-1zM551 17h1v1h-1zM547 18h1v1h-1zM551 18h1v1h-1zM547 19h1v1h-1zM551 19h1v1h-1zM547 20h1v1h-1zM551 20h1v1h-1zM548 21h1v1h-1zM550 21h1v1h-1zM549 22h1v1h-1zM20 35h1v1h-1zM19 36h2v1h-2zM18 37h1v1h-1zM20 37h1v1h-1zM20 38h1v1h-1zM20 39h1v1h-1zM20 40h1v1h-1zM20 41h1v1h-1zM18 42h5v1h-5zM24 35h5v1h-5zM24 36h1v1h-1zM24 37h4v1h-4zM24 38h1v1h-1zM28 38h1v1h-1zM28 39h1v1h-1zM28 40h1v1h-1zM24 41h1v1h-1zM28 41h1v1h-1zM25 42h3v1h-3zM32 35h1v1h-1zM31 36h1v1h-1zM33 36h1v1h-1zM30 37h1v1h-1zM34 37h1v1h-1zM30 38h1v1h-1zM34 38h1v1h-1zM30 39h1v1h-1zM34 39h1v1h-1zM30 40h1v1h-1zM34 40h1v1h-1zM31 41h1v1h-1zM33 41h1v1h-1zM32 42h1v1h-1zM38 35h1v1h-1zM37 36h1v1h-1zM39 36h1v1h-1zM36 37h1v1h-1zM40 37h1v1h-1zM36 38h1v1h-1zM40 38h1v1h-1zM36 39h1v1h-1zM40 39h1v1h-1zM36 40h1v1h-1zM40 40h1v1h-1zM37 41h1v1h-1zM39 41h1v1h-1zM38 42h1v1h-1zM44 35h1v1h-1zM43 36h1v1h-1zM45 36h1v1h-1zM42 37h1v1h-1zM46 37h1v1h-1zM42 38h1v1h-1zM46 38h1v1h-1zM42 39h1v1h-1zM46 39h1v1h-1zM42 40h1v1h-1zM46 40h1v1h-1zM43 41h1v1h-1zM45 41h1v1h-1zM44 42h1v1h-1zM20 152h1v1h-1zM19 153h2v1h-2zM18 154h1v1h-1zM20 154h1v1h-1zM20 155h1v1h-1zM20 156h1v1h-1zM20 157h1v1h-1zM20 158h1v1h-1zM18 159h5v1h-5zM26 152h1v1h-1zM25 153h1v1h-1zM27 153h1v1h-1zM24 154h1v1h-1zM28 154h1v1h-1zM24 155h1v1h-1zM28 155h1v1h-1zM24 156h1v1h-1zM28 156h1v1h-1zM24 157h1v1h-1zM28 157h1v1h-1zM25 158h1v1h-1zM27 158h1v1h-1zM26 159h1v1h-1zM32 152h1v1h-1zM31 153h1v1h-1zM33 153h1v1h-1zM30 154h1v1h-1zM34 154h1v1h-1zM30 155h1v1h-1zM34 155h1v1h-1zM30 156h1v1h-1zM34 156h1v1h-1zM30 157h1v1h-1zM34 157h1v1h-1zM31 158h1v1h-1zM33 158h1v1h-1zM32 159h1v1h-1zM38 152h1v1h-1zM37 153h1v1h-1zM39 153h1v1h-1zM36 154h1v1h-1zM40 154h1v1h-1zM36 155h1v1h-1zM40 155h1v1h-1zM36 156h1v1h-1zM40 156h1v1h-1zM36 157h1v1h-1zM40 157h1v1h-1zM37 158h1v1h-1zM39 158h1v1h-1zM38 159h1v1h-1zM44 152h1v1h-1zM43 153h1v1h-1zM45 153h1v1h-1zM42 154h1v1h-1zM46 154h1v1h-1zM42 155h1v1h-1zM46 155h1v1h-1zM42 156h1v1h-1zM46 156h1v1h-1zM42 157h1v1h-1zM46 157h1v1h-1zM43 158h1v1h-1zM45 158h1v1h-1zM44 159h1v1h-1zM24 269h5v1h-5zM24 270h1v1h-1zM24 271h4v1h-4zM24 272h1v1h-1zM28 272h1v1h-1zM28 273h1v1h-1zM28 274h1v1h-1zM24 275h1v1h-1zM28 275h1v1h-1zM25 276h3v1h-3zM32 269h1v1h-1zM31 270h1v1h-1zM33 270h1v1h-1zM30 271h1v1h-1zM34 271h1v1h-1zM30 272h1v1h-1zM34 272h1v1h-1zM30 273h1v1h-1zM34 273h1v1h-1zM30 274h1v1h-1zM34 274h1v1h-1zM31 275h1v1h-1zM33 275h1v1h-1zM32 276h1v1h-1zM38 269h1v1h-1zM37 270h1v1h-1zM39 270h1v1h-1zM36 271h1v1h-1zM40 271h1v1h-1zM36 272h1v1h-1zM40 272h1v1h-1zM36 273h1v1h-1zM40 273h1v1h-1zM36 274h1v1h-1zM40 274h1v1h-1zM37 275h1v1h-1zM39 275h1v1h-1zM38 276h1v1h-1zM44 269h1v1h-1zM43 270h1v1h-1zM45 270h1v1h-1zM42 271h1v1h-1zM46 271h1v1h-1zM42 272h1v1h-1zM46 272h1v1h-1zM42 273h1v1h-1zM46 273h1v1h-1zM42 274h1v1h-1zM46 274h1v1h-1zM43 275h1v1h-1zM45 275h1v1h-1zM44 276h1v1h-1zM44 386h1v1h-1zM43 387h1v1h-1zM45 387h1v1h-1zM42 388h1v1h-1zM46 388h1v1h-1zM42 389h1v1h-1zM46 389h1v1h-1zM42 390h1v1h-1zM46 390h1v1h-1zM42 391h1v1h-1zM46 391h1v1h-1zM43 392h1v1h-1zM45 392h1v1h-1zM44 393h1v1h-1zM18 508h5v1h-5zM24 504h5v1h-5zM24 505h1v1h-1zM24 506h4v1h-4zM24 507h1v1h-1zM28 507h1v1h-1zM28 508h1v1h-1zM28 509h1v1h-1zM24 510h1v1h-1zM28 510h1v1h-1zM25 511h3v1h-3zM32 504h1v1h-1zM31 505h1v1h-1zM33 505h1v1h-1zM30 506h1v1h-1zM34 506h1v1h-1zM30 507h1v1h-1zM34 507h1v1h-1zM30 508h1v1h-1zM34 508h1v1h-1zM30 509h1v1h-1zM34 509h1v1h-1zM31 510h1v1h-1zM33 510h1v1h-1zM32 511h1v1h-1zM38 504h1v1h-1zM37 505h1v1h-1zM39 505h1v1h-1zM36 506h1v1h-1zM40 506h1v1h-1zM36 507h1v1h-1zM40 507h1v1h-1zM36 508h1v1h-1zM40 508h1v1h-1zM36 509h1v1h-1zM40 509h1v1h-1zM37 510h1v1h-1zM39 510h1v1h-1zM38 511h1v1h-1zM44 504h1v1h-1zM43 505h1v1h-1zM45 505h1v1h-1zM42 506h1v1h-1zM46 506h1v1h-1zM42 507h1v1h-1zM46 507h1v1h-1zM42 508h1v1h-1zM46 508h1v1h-1zM42 509h1v1h-1zM46 509h1v1h-1zM43 510h1v1h-1zM45 510h1v1h-1zM44 511h1v1h-1zM12 625h5v1h-5zM20 621h1v1h-1zM19 622h2v1h-2zM18 623h1v1h-1zM20 623h1v1h-1zM20 624h1v1h-1zM20 625h1v1h-1zM20 626h1v1h-1zM20 627h1v1h-1zM18 628h5v1h-5zM26 621h1v1h-1zM25 622h1v1h-1zM27 622h1v1h-1zM24 623h1v1h-1zM28 623h1v1h-1zM24 624h1v1h-1zM28 624h1v1h-1zM24 625h1v1h-1zM28 625h1v1h-1zM24 626h1v1h-1zM28 626h1v1h-1zM25 627h1v1h-1zM27 627h1v1h-1zM26 628h1v1h-1zM32 621h1v1h-1zM31 622h1v1h-1zM33 622h1v1h-1zM30 623h1v1h-1zM34 623h1v1h-1zM30 624h1v1h-1zM34 624h1v1h-1zM30 625h1v1h-1zM34 625h1v1h-1zM30 626h1v1h-1zM34 626h1v1h-1zM31 627h1v1h-1zM33 627h1v1h-1zM32 628h1v1h-1zM38 621h1v1h-1zM37 622h1v1h-1zM39 622h1v1h-1zM36 623h1v1h-1zM40 623h1v1h-1zM36 624h1v1h-1zM40 624h1v1h-1zM36 625h1v1h-1zM40 625h1v1h-1zM36 626h1v1h-1zM40 626h1v1h-1zM37 627h1v1h-1zM39 627h1v1h-1zM38 628h1v1h-1zM44 621h1v1h-1zM43 622h1v1h-1zM45 622h1v1h-1zM42 623h1v1h-1zM46 623h1v1h-1zM42 624h1v1h-1zM46 624h1v1h-1zM42 625h1v1h-1zM46 625h1v1h-1zM42 626h1v1h-1zM46 626h1v1h-1zM43 627h1v1h-1zM45 627h1v1h-1zM44 628h1v1h-1zM12 742h5v1h-5zM20 738h1v1h-1zM19 739h2v1h-2zM18 740h1v1h-1zM20 740h1v1h-1zM20 741h1v1h-1zM20 742h1v1h-1zM20 743h1v1h-1zM20 744h1v1h-1zM18 745h5v1h-5zM24 738h5v1h-5zM24 739h1v1h-1zM24 740h4v1h-4zM24 741h1v1h-1zM28 741h1v1h-1zM28 742h1v1h-1zM28 743h1v1h-1zM24 744h1v1h-1zM28 744h1v1h-1zM25 745h3v1h-3zM32 738h1v1h-1zM31 739h1v1h-1zM33 739h1v1h-1zM30 740h1v1h-1zM34 740h1v1h-1zM30 741h1v1h-1zM34 741h1v1h-1zM30 742h1v1h-1zM34 742h1v1h-1zM30 743h1v1h-1zM34 743h1v1h-1zM31 744h1v1h-1zM33 744h1v1h-1zM32 745h1v1h-1zM38 738h1v1h-1zM37 739h1v1h-1zM39 739h1v1h-1zM36 740h1v1h-1zM40 740h1v1h-1zM36 741h1v1h-1zM40 741h1v1h-1zM36 742h1v1h-1zM40 742h1v1h-1zM36 743h1v1h-1zM40 743h1v1h-1zM37 744h1v1h-1zM39 744h1v1h-1zM38 745h1v1h-1zM44 738h1v1h-1zM43 739h1v1h-1zM45 739h1v1h-1zM42 740h1v1h-1zM46 740h1v1h-1zM42 741h1v1h-1zM46 741h1v1h-1zM42 742h1v1h-1zM46 742h1v1h-1zM42 743h1v1h-1zM46 743h1v1h-1zM43 744h1v1h-1zM45 744h1v1h-1zM44 745h1v1h-1zM56 751h1v1h-1zM55 752h1v1h-1zM57 752h1v1h-1zM54 753h1v1h-1zM58 753h1v1h-1zM54 754h1v1h-1zM58 754h1v1h-1zM54 755h1v1h-1zM58 755h1v1h-1zM54 756h1v1h-1zM58 756h1v1h-1zM55 757h1v1h-1zM57 757h1v1h-1zM56 758h1v1h-1zM226 751h1v1h-1zM225 752h2v1h-2zM224 753h1v1h-1zM226 753h1v1h-1zM226 754h1v1h-1zM226 755h1v1h-1zM226 756h1v1h-1zM226 757h1v1h-1zM224 758h5v1h-5zM232 751h1v1h-1zM231 752h1v1h-1zM233 752h1v1h-1zM230 753h1v1h-1zM234 753h1v1h-1zM230 754h1v1h-1zM234 754h1v1h-1zM230 755h1v1h-1zM234 755h1v1h-1zM230 756h1v1h-1zM234 756h1v1h-1zM231 757h1v1h-1zM233 757h1v1h-1zM232 758h1v1h-1zM238 751h1v1h-1zM237 752h1v1h-1zM239 752h1v1h-1zM236 753h1v1h-1zM240 753h1v1h-1zM236 754h1v1h-1zM240 754h1v1h-1zM236 755h1v1h-1zM240 755h1v1h-1zM236 756h1v1h-1zM240 756h1v1h-1zM237 757h1v1h-1zM239 757h1v1h-1zM238 758h1v1h-1zM401 751h3v1h-3zM400 752h1v1h-1zM404 752h1v1h-1zM404 753h1v1h-1zM403 754h1v1h-1zM402 755h1v1h-1zM401 756h1v1h-1zM400 757h1v1h-1zM400 758h5v1h-5zM408 751h1v1h-1zM407 752h1v1h-1zM409 752h1v1h-1zM406 753h1v1h-1zM410 753h1v1h-1zM406 754h1v1h-1zM410 754h1v1h-1zM406 755h1v1h-1zM410 755h1v1h-1zM406 756h1v1h-1zM410 756h1v1h-1zM407 757h1v1h-1zM409 757h1v1h-1zM408 758h1v1h-1zM414 751h1v1h-1zM413 752h1v1h-1zM415 752h1v1h-1zM412 753h1v1h-1zM416 753h1v1h-1zM412 754h1v1h-1zM416 754h1v1h-1zM412 755h1v1h-1zM416 755h1v1h-1zM412 756h1v1h-1zM416 756h1v1h-1zM413 757h1v1h-1zM415 757h1v1h-1zM414 758h1v1h-1zM577 751h3v1h-3zM576 752h1v1h-1zM580 752h1v1h-1zM580 753h1v1h-1zM578 754h2v1h-2zM580 755h1v1h-1zM580 756h1v1h-1zM576 757h1v1h-1zM580 757h1v1h-1zM577 758h3v1h-3zM584 751h1v1h-1zM583 752h1v1h-1zM585 752h1v1h-1zM582 753h1v1h-1zM586 753h1v1h-1zM582 754h1v1h-1zM586 754h1v1h-1zM582 755h1v1h-1zM586 755h1v1h-1zM582 756h1v1h-1zM586 756h1v1h-1zM583 757h1v1h-1zM585 757h1v1h-1zM584 758h1v1h-1zM590 751h1v1h-1zM589 752h1v1h-1zM591 752h1v1h-1zM588 753h1v1h-1zM592 753h1v1h-1zM588 754h1v1h-1zM592 754h1v1h-1zM588 755h1v1h-1zM592 755h1v1h-1zM588 756h1v1h-1zM592 756h1v1h-1zM589 757h1v1h-1zM591 757h1v1h-1zM590 758h1v1h-1zM755 751h1v1h-1zM754 752h2v1h-2zM753 753h1v1h-1zM755 753h1v1h-1zM752 754h1v1h-1zM755 754h1v1h-1zM752 755h1v1h-1zM755 755h1v1h-1zM752 756h5v1h-5zM755 757h1v1h-1zM755 758h1v1h-1zM760 751h1v1h-1zM759 752h1v1h-1zM761 752h1v1h-1zM758 753h1v1h-1zM762 753h1v1h-1zM758 754h1v1h-1zM762 754h1v1h-1zM758 755h1v1h-1zM762 755h1v1h-1zM758 756h1v1h-1zM762 756h1v1h-1zM759 757h1v1h-1zM761 757h1v1h-1zM760 758h1v1h-1zM766 751h1v1h-1zM765 752h1v1h-1zM767 752h1v1h-1zM764 753h1v1h-1zM768 753h1v1h-1zM764 754h1v1h-1zM768 754h1v1h-1zM764 755h1v1h-1zM768 755h1v1h-1zM764 756h1v1h-1zM768 756h1v1h-1zM765 757h1v1h-1zM767 757h1v1h-1zM766 758h1v1h-1zM929 751h5v1h-5zM929 752h1v1h-1zM929 753h4v1h-4zM929 754h1v1h-1zM933 754h1v1h-1zM933 755h1v1h-1zM933 756h1v1h-1zM929 757h1v1h-1zM933 757h1v1h-1zM930 758h3v1h-3zM937 751h1v1h-1zM936 752h1v1h-1zM938 752h1v1h-1zM935 753h1v1h-1zM939 753h1v1h-1zM935 754h1v1h-1zM939 754h1v1h-1zM935 755h1v1h-1zM939 755h1v1h-1zM935 756h1v1h-1zM939 756h1v1h-1zM936 757h1v1h-1zM938 757h1v1h-1zM937 758h1v1h-1zM943 751h1v1h-1zM942 752h1v1h-1zM944 752h1v1h-1zM941 753h1v1h-1zM945 753h1v1h-1zM941 754h1v1h-1zM945 754h1v1h-1zM941 755h1v1h-1zM945 755h1v1h-1zM941 756h1v1h-1zM945 756h1v1h-1zM942 757h1v1h-1zM944 757h1v1h-1zM943 758h1v1h-1zM921 48h2v1h-2zM922 49h1v1h-1zM922 50h1v1h-1zM922 51h1v1h-1zM922 52h1v1h-1zM922 53h1v1h-1zM922 54h1v1h-1zM921 55h3v1h-3zM928 48h1v1h-1zM927 50h2v1h-2zM928 51h1v1h-1zM928 52h1v1h-1zM928 53h1v1h-1zM928 54h1v1h-1zM927 55h3v1h-3zM932 50h1v1h-1zM934 50h2v1h-2zM932 51h2v1h-2zM936 51h1v1h-1zM932 52h1v1h-1zM936 52h1v1h-1zM932 53h1v1h-1zM936 53h1v1h-1zM932 54h1v1h-1zM936 54h1v1h-1zM932 55h1v1h-1zM936 55h1v1h-1zM939 50h3v1h-3zM938 51h1v1h-1zM942 51h1v1h-1zM938 52h5v1h-5zM938 53h1v1h-1zM938 54h1v1h-1zM939 55h3v1h-3zM952 48h1v1h-1zM951 49h2v1h-2zM950 50h1v1h-1zM952 50h1v1h-1zM952 51h1v1h-1zM952 52h1v1h-1zM952 53h1v1h-1zM952 54h1v1h-1zM950 55h5v1h-5zM921 61h2v1h-2zM922 62h1v1h-1zM922 63h1v1h-1zM922 64h1v1h-1zM922 65h1v1h-1zM922 66h1v1h-1zM922 67h1v1h-1zM921 68h3v1h-3zM928 61h1v1h-1zM927 63h2v1h-2zM928 64h1v1h-1zM928 65h1v1h-1zM928 66h1v1h-1zM928 67h1v1h-1zM927 68h3v1h-3zM932 63h1v1h-1zM934 63h2v1h-2zM932 64h2v1h-2zM936 64h1v1h-1zM932 65h1v1h-1zM936 65h1v1h-1zM932 66h1v1h-1zM936 66h1v1h-1zM932 67h1v1h-1zM936 67h1v1h-1zM932 68h1v1h-1zM936 68h1v1h-1zM939 63h3v1h-3zM938 64h1v1h-1zM942 64h1v1h-1zM938 65h5v1h-5zM938 66h1v1h-1zM938 67h1v1h-1zM939 68h3v1h-3zM951 61h3v1h-3zM950 62h1v1h-1zM954 62h1v1h-1zM954 63h1v1h-1zM953 64h1v1h-1zM952 65h1v1h-1zM951 66h1v1h-1zM950 67h1v1h-1zM950 68h5v1h-5zM921 74h2v1h-2zM922 75h1v1h-1zM922 76h1v1h-1zM922 77h1v1h-1zM922 78h1v1h-1zM922 79h1v1h-1zM922 80h1v1h-1zM921 81h3v1h-3zM928 74h1v1h-1zM927 76h2v1h-2zM928 77h1v1h-1zM928 78h1v1h-1zM928 79h1v1h-1zM928 80h1v1h-1zM927 81h3v1h-3zM932 76h1v1h-1zM934 76h2v1h-2zM932 77h2v1h-2zM936 77h1v1h-1zM932 78h1v1h-1zM936 78h1v1h-1zM932 79h1v1h-1zM936 79h1v1h-1zM932 80h1v1h-1zM936 80h1v1h-1zM932 81h1v1h-1zM936 81h1v1h-1zM939 76h3v1h-3zM938 77h1v1h-1zM942 77h1v1h-1zM938 78h5v1h-5zM938 79h1v1h-1zM938 80h1v1h-1zM939 81h3v1h-3zM951 74h3v1h-3zM950 75h1v1h-1zM954 75h1v1h-1zM954 76h1v1h-1zM952 77h2v1h-2zM954 78h1v1h-1zM954 79h1v1h-1zM950 80h1v1h-1zM954 80h1v1h-1zM951 81h3v1h-3zM921 87h2v1h-2zM922 88h1v1h-1zM922 89h1v1h-1zM922 90h1v1h-1zM922 91h1v1h-1zM922 92h1v1h-1zM922 93h1v1h-1zM921 94h3v1h-3zM928 87h1v1h-1zM927 89h2v1h-2zM928 90h1v1h-1zM928 91h1v1h-1zM928 92h1v1h-1zM928 93h1v1h-1zM927 94h3v1h-3zM932 89h1v1h-1zM934 89h2v1h-2zM932 90h2v1h-2zM936 90h1v1h-1zM932 91h1v1h-1zM936 91h1v1h-1zM932 92h1v1h-1zM936 92h1v1h-1zM932 93h1v1h-1zM936 93h1v1h-1zM932 94h1v1h-1zM936 94h1v1h-1zM939 89h3v1h-3zM938 90h1v1h-1zM942 90h1v1h-1zM938 91h5v1h-5zM938 92h1v1h-1zM938 93h1v1h-1zM939 94h3v1h-3zM953 87h1v1h-1zM952 88h2v1h-2zM951 89h1v1h-1zM953 89h1v1h-1zM950 90h1v1h-1zM953 90h1v1h-1zM950 91h1v1h-1zM953 91h1v1h-1zM950 92h5v1h-5zM953 93h1v1h-1zM953 94h1v1h-1z" fill="#000"/>
</svg>
</body></html>
